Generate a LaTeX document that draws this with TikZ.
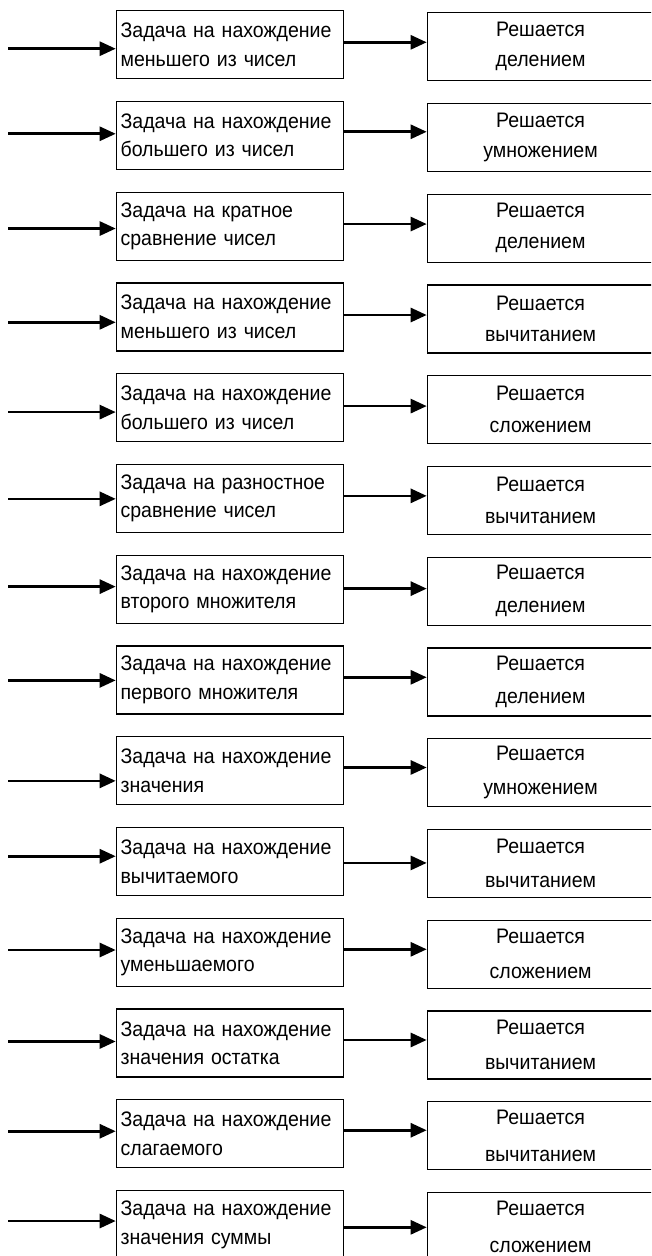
\documentclass[tikz,border=0pt]{standalone}
\usepackage{fontspec}
\setmainfont{Liberation Sans}[FakeStretch=0.93]
\usetikzlibrary{arrows.meta}
\begin{document}
\begin{tikzpicture}[x=1pt,y=-1pt,
  lbox/.style={draw, line width=1.2pt, rectangle, anchor=north west, minimum width=227pt, minimum height=68pt, text width=218.4pt, inner xsep=4.3pt, inner ysep=0pt, align=left, font=\fontsize{21}{28.5}\selectfont},
  rbox/.style={draw, line width=1.2pt, rectangle, anchor=north west, minimum width=226.6pt, minimum height=68pt, text width=218pt, inner xsep=4.3pt, inner ysep=0pt, align=center},
  arr/.style={line width=2.7pt, -{Triangle[length=16pt,width=14pt]}}]
\useasboundingbox (0,0) rectangle (651,1256);
\clip (0,0) rectangle (651,1256);
\foreach \i/\la/\lb/\rb/\ia/\ma in {
  0/Задача на нахождение/меньшего из чисел/делением/38.7/32.3,
  1/Задача на нахождение/большего из чисел/умножением/33/31,
  2/Задача на кратное/сравнение чисел/делением/37/32.5,
  3/Задача на нахождение/меньшего из чисел/вычитанием/40/32.7,
  4/Задача на нахождение/большего из чисел/сложением/39/33,
  5/Задача на разностное/сравнение чисел/вычитанием/35/32,
  6/Задача на нахождение/второго множителя/делением/32/34,
  7/Задача на нахождение/первого множителя/делением/35/31.9,
  8/Задача на нахождение/значения/умножением/44.7/31.3,
  9/Задача на нахождение/вычитаемого/вычитанием/29.3/36,
  10/Задача на нахождение/уменьшаемого/сложением/32.3/31.6,
  11/Задача на нахождение/значения остатка/вычитанием/33/31.5,
  12/Задача на нахождение/слагаемого/вычитанием/32/31,
  13/Задача на нахождение/значения суммы/сложением/31/37.3}{
  \pgfmathsetmacro\yt{10+90.77*\i}
  \pgfmathsetmacro\lsp{29.7+0.53*\i}
  \node[lbox] (L\i) at (115.7,\yt) {\la\\\lb};
  \node[rbox, font=\fontsize{21}{\lsp}\selectfont] (R\i) at (426.7,\yt+2) {Решается\\\rb};
  \coordinate (s\i) at (8.3,\yt+\ia);
  \coordinate (m\i) at (380,\yt+\ma);
  \draw[arr] (s\i) -- (L\i.west |- s\i);
  \draw[arr] (L\i.east |- m\i) -- (R\i.west |- m\i);
}
\end{tikzpicture}
\end{document}
